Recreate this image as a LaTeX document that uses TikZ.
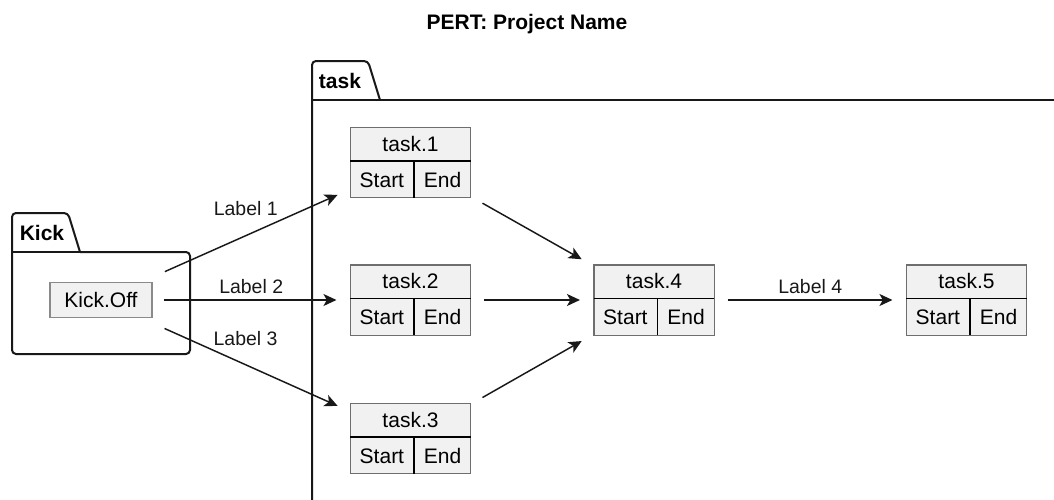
\documentclass[tikz,border=0pt]{standalone}
\usepackage{fontspec}
\setmainfont{Liberation Sans}
\usepackage{array}
\usepackage{xcolor}
\usepackage{tikz}
\usetikzlibrary{calc, positioning, arrows.meta}

\definecolor{boxfill}{HTML}{F1F1F1}
\definecolor{boxline}{HTML}{6E6E6E}
\definecolor{kickline}{HTML}{8A8A8A}
\definecolor{inkline}{HTML}{181818}
\setlength{\arrayrulewidth}{0.9pt}
\setlength{\tabcolsep}{0pt}
\newcolumntype{C}[1]{>{\centering\arraybackslash}p{#1}}
\newcommand{\pertcell}[1]{\begin{tabular}{@{}C{47.25pt}|C{42pt}@{}}\multicolumn{2}{@{}c@{}}{\rule[-7pt]{0pt}{24.75pt}#1}\\\hline\rule[-7.8pt]{0pt}{27pt}Start & End\end{tabular}}

\tikzset{
  taskbox/.style={draw=boxline, fill=boxfill, line width=0.9pt, inner sep=0pt, font=\fontsize{15.75}{19}\selectfont},
  flow/.style={draw=inkline, line width=1.1pt, -{Stealth[length=9.75pt,width=9pt,inset=2.5pt]}, shorten >=10pt, shorten <=9.75pt},
  lbl/.style={font=\fontsize{14.6}{17}\selectfont, text=inkline, inner sep=0pt},
  pkg/.style={draw=inkline, line width=1.5pt},
  pkgname/.style={font=\bfseries\fontsize{15.75}{19}\selectfont, inner sep=0pt}
}

\begin{document}
\begin{tikzpicture}[x=0.75pt, y=-0.75pt, >=stealth]
            \useasboundingbox (0,0) rectangle (1054,500);
            \node[pkgname, anchor=base] (title) at (527,29.5) {PERT: Project Name};
            
            \draw[pkg] (80,252) [rounded corners=3pt] -- (190,252) -- (190,354) -- (12,354) -- (12,213) -- (68,213) [sharp corners] -- (80,252);
            \draw[pkg] (12,252) -- (80,252);
            \node[pkgname, anchor=base] (kickname) at (42,240) {Kick};
            
            \draw[pkg] (312,506) [rounded corners=3pt] -- (312,61) -- (368,61) [sharp corners] -- (380,100);
            \draw[pkg] (312,100) -- (1060,100);
            \node[pkgname, anchor=base] (taskname) at (340,88) {task};
            
            \node[taskbox, draw=kickline, minimum width=76.5pt, minimum height=26.25pt] (kick) at (101,300) {Kick.Off};
            \node[taskbox] (t1) at (410.5,162.5) {\pertcell{task.1}};
            \node[taskbox] (t2) at (410.5,300) {\pertcell{task.2}};
            \node[taskbox] (t3) at (410.5,438.5) {\pertcell{task.3}};
            \node[taskbox] (t4) at (654,300) {\pertcell{task.4}};
            \node[taskbox] (t5) at (966.5,300) {\pertcell{task.5}};
            
            \draw[flow, shorten <=19pt] (kick) -- node[lbl, yshift=20pt] (l1) {Label 1} (t1);
            \draw[flow, shorten <=8.25pt] (kick) -- node[lbl, yshift=10pt] (l2) {Label 2} (t2);
            \draw[flow, shorten <=19pt] (kick) -- node[lbl, yshift=20pt] (l3) {Label 3} (t3);
            \draw[flow] (t1) -- (t4);
            \draw[flow] (t2) -- (t4);
            \draw[flow] (t3) -- (t4);
            \draw[flow] (t4) -- node[lbl, yshift=10pt] (l4) {Label 4} (t5);
        \end{tikzpicture}
\end{document}
